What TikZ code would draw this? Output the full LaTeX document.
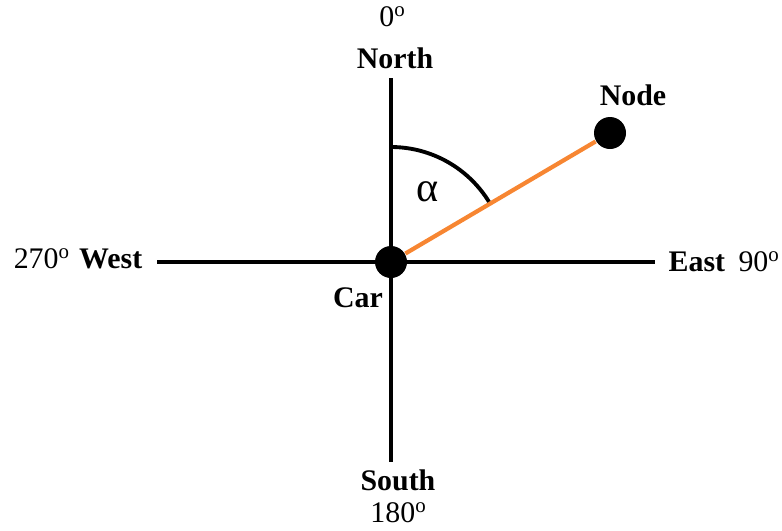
\documentclass[tikz,border=0pt]{standalone}
\usepackage{fontspec}
\setmainfont{Liberation Serif}
\usetikzlibrary{positioning}

\definecolor{lineorange}{RGB}{247,134,50}

\tikzstyle{axis} = [
line width=1.2pt,
black
]
\tikzstyle{dot} = [
circle,
fill=black,
inner sep=0pt,
minimum size=0.32cm
]
\tikzstyle{label} = [
font=\fontsize{8.5}{10}\selectfont\bfseries,
inner sep=0pt
]
\tikzstyle{deg} = [
font=\fontsize{8.5}{10}\selectfont,
inner sep=0pt
]
\tikzstyle{bearing} = [
line width=1.2pt,
lineorange
]

\begin{document}
\begin{tikzpicture}

\useasboundingbox (0,0) rectangle (7.82,5.30);

% Axis ends
\coordinate (nend) at (3.91,4.52);
\coordinate (send) at (3.91,0.68);
\coordinate (wend) at (1.57,2.68);
\coordinate (eend) at (6.55,2.68);

% Axes
\draw [axis] (nend) -- (send);
\draw [axis] (wend) -- (eend);

% Nodes
\node (car) [dot] at (3.91,2.68) {};
\node (target) [dot] at (6.10,3.97) {};

% Angle
\draw [line width=1.1pt] ([shift={(90:1.15)}]car.center) arc (90:31:1.15);
\node (alpha) [deg, font=\fontsize{12}{14}\selectfont] at (4.28,3.38) {α};

% Bearing line
\draw [bearing] (car) -- (target);

% Labels
\node (north) [label] at (3.95,4.72) {North};
\node (zero) [deg] at (3.93,5.13) {0\textsuperscript{o}};
\node (south) [label] at (3.98,0.50) {South};
\node (oneeighty) [deg] at (3.99,0.17) {180\textsuperscript{o}};
\node (west) [label, anchor=east] at (1.43,2.71) {West};
\node (twoseventy) [deg, left=0.07cm of west] {270\textsuperscript{o}};
\node (east) [label, anchor=west] at (6.68,2.68) {East};
\node (ninety) [deg, right=0.12cm of east] {90\textsuperscript{o}};
\node (nodelabel) [label] at (6.33,4.35) {Node};
\node (carlabel) [label] at (3.58,2.32) {Car};

\end{tikzpicture}
\end{document}
